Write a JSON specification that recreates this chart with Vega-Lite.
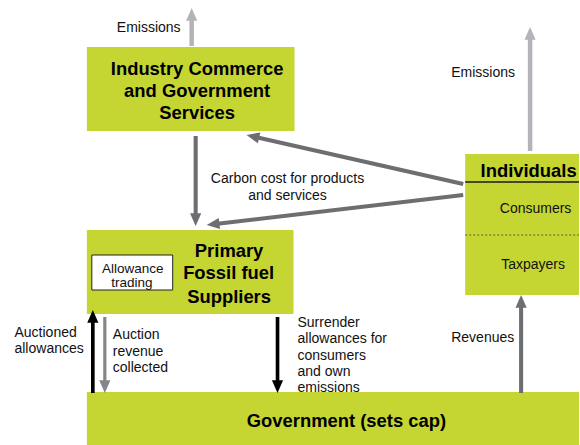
{
  "$schema": "https://vega.github.io/schema/vega-lite/v6.json",
  "width": 580,
  "height": 445,
  "autosize": {"type": "fit", "contains": "padding"},
  "padding": 0,
  "background": "white",
  "config": {"view": {"stroke": null}},
  "datasets": {
    "boxes": [
      {"name": "Industry", "x": 87, "x2": 295, "y": 47, "y2": 131},
      {"name": "Primary", "x": 87, "x2": 294, "y": 230, "y2": 314},
      {"name": "Individuals", "x": 466, "x2": 580, "y": 154, "y2": 295},
      {"name": "Government", "x": 87, "x2": 580, "y": 392, "y2": 445}
    ],
    "white": [
      {"name": "Allowance trading", "x": 92, "x2": 173, "y": 255, "y2": 290}
    ],
    "solid": [{"x": 466, "x2": 580, "y": 182}],
    "dashed": [{"x": 466, "x2": 580, "y": 235}],
    "arrows": [
      {"label": "Emissions (industry)", "kind": "emission", "x1": 192, "y1": 46, "x2": 192, "y2": 8},
      {"label": "Emissions (individuals)", "kind": "emission", "x1": 531, "y1": 151, "x2": 531, "y2": 27},
      {"label": "Carbon cost industry to suppliers", "kind": "flow", "x1": 196, "y1": 136, "x2": 196, "y2": 226},
      {"label": "Individuals to industry", "kind": "flow", "x1": 464, "y1": 184, "x2": 247, "y2": 135},
      {"label": "Individuals to suppliers", "kind": "flow", "x1": 464, "y1": 195, "x2": 207, "y2": 225},
      {"label": "Auctioned allowances", "kind": "black", "x1": 93, "y1": 393, "x2": 93, "y2": 310},
      {"label": "Auction revenue collected", "kind": "light", "x1": 105, "y1": 317, "x2": 105, "y2": 393},
      {"label": "Surrender allowances", "kind": "black", "x1": 278, "y1": 317, "x2": 278, "y2": 393},
      {"label": "Revenues", "kind": "flow", "x1": 522, "y1": 393, "x2": 522, "y2": 295}
    ],
    "txtL": [
      {"t": "Emissions", "x": 117, "y": 28},
      {"t": "Emissions", "x": 452, "y": 73},
      {"t": "Auctioned", "x": 14.5, "y": 333},
      {"t": "allowances", "x": 14.5, "y": 349},
      {"t": "Auction", "x": 113, "y": 335},
      {"t": "revenue", "x": 113, "y": 352},
      {"t": "collected", "x": 113, "y": 368},
      {"t": "Surrender", "x": 298, "y": 323},
      {"t": "allowances for", "x": 298, "y": 339},
      {"t": "consumers", "x": 298, "y": 355.5},
      {"t": "and own", "x": 298, "y": 372},
      {"t": "emissions", "x": 298, "y": 388},
      {"t": "Revenues", "x": 452, "y": 338}
    ],
    "txtC": [
      {"t": "Carbon cost for products", "x": 288, "y": 178.5},
      {"t": "and services", "x": 288, "y": 196},
      {"t": "Consumers", "x": 536.5, "y": 209},
      {"t": "Taxpayers", "x": 534, "y": 264.5}
    ],
    "txtS": [
      {"t": "Allowance", "x": 133, "y": 268.5},
      {"t": "trading", "x": 132, "y": 283}
    ],
    "txtB": [
      {"t": "Industry Commerce", "x": 197.5, "y": 68.5},
      {"t": "and Government", "x": 197.5, "y": 90.5},
      {"t": "Services", "x": 197.5, "y": 113},
      {"t": "Primary", "x": 229.5, "y": 251},
      {"t": "Fossil fuel", "x": 229, "y": 273},
      {"t": "Suppliers", "x": 229.5, "y": 297},
      {"t": "Individuals", "x": 529.5, "y": 171},
      {"t": "Government (sets cap)", "x": 347, "y": 421}
    ]
  },
  "encoding": {
    "x": {"field": "x", "type": "quantitative", "scale": {"domain": [0, 580], "nice": false, "zero": false}, "axis": null},
    "y": {"field": "y", "type": "quantitative", "scale": {"domain": [0, 445], "nice": false, "zero": false, "reverse": true}, "axis": null}
  },
  "layer": [
    {
      "data": {"name": "boxes"},
      "mark": {"type": "rect", "color": "#c5d531"},
      "encoding": {
        "x2": {"field": "x2"},
        "y2": {"field": "y2"}
      }
    },
    {
      "data": {"name": "white"},
      "mark": {"type": "rect", "fill": "white", "stroke": "#222222", "strokeWidth": 1},
      "encoding": {
        "x2": {"field": "x2"},
        "y2": {"field": "y2"}
      }
    },
    {
      "data": {"name": "solid"},
      "mark": {"type": "rule", "color": "#1a1a1a", "strokeWidth": 1.5},
      "encoding": {"x2": {"field": "x2"}}
    },
    {
      "data": {"name": "dashed"},
      "mark": {"type": "rule", "color": "#333333", "strokeWidth": 0.7, "strokeDash": [2, 2]},
      "encoding": {"x2": {"field": "x2"}}
    },
    {
      "data": {"name": "arrows"},
      "transform": [
        {"calculate": "sqrt(pow(datum.x2-datum.x1,2)+pow(datum.y2-datum.y1,2))", "as": "len"},
        {"calculate": "datum.x1", "as": "x"},
        {"calculate": "datum.y1", "as": "y"},
        {"calculate": "datum.x2-(datum.x2-datum.x1)/datum.len*9", "as": "sx"},
        {"calculate": "datum.y2-(datum.y2-datum.y1)/datum.len*9", "as": "sy"}
      ],
      "mark": {"type": "rule", "strokeCap": "butt"},
      "encoding": {
        "x2": {"field": "sx"},
        "y2": {"field": "sy"},
        "color": {"field": "kind", "type": "nominal", "scale": {"domain": ["emission", "flow", "black", "light"], "range": ["#b2b4b7", "#6d6e71", "#000000", "#858689"]}, "legend": null},
        "strokeWidth": {"field": "kind", "type": "nominal", "scale": {"domain": ["emission", "flow", "black", "light"], "range": [4.5, 3.2, 3.2, 3.2]}, "legend": null}
      }
    },
    {
      "data": {"name": "arrows"},
      "transform": [
        {"calculate": "datum.x2", "as": "x"},
        {"calculate": "datum.y2", "as": "y"},
        {"calculate": "atan2(datum.x2-datum.x1, -(datum.y2-datum.y1))*180/PI", "as": "ang"}
      ],
      "mark": {"type": "point", "shape": "M0,0L-0.5,1.15L0.5,1.15Z", "filled": true, "opacity": 1, "size": 500, "strokeWidth": 0},
      "encoding": {
        "color": {"field": "kind", "type": "nominal", "scale": {"domain": ["emission", "flow", "black", "light"], "range": ["#b2b4b7", "#6d6e71", "#000000", "#858689"]}, "legend": null},
        "angle": {"field": "ang", "type": "quantitative", "scale": null}
      }
    },
    {
      "data": {"name": "txtL"},
      "mark": {"type": "text", "align": "left", "baseline": "middle", "font": "Liberation Sans", "fontSize": 14, "color": "#111111"},
      "encoding": {"text": {"field": "t"}}
    },
    {
      "data": {"name": "txtC"},
      "mark": {"type": "text", "align": "center", "baseline": "middle", "font": "Liberation Sans", "fontSize": 14, "color": "#111111"},
      "encoding": {"text": {"field": "t"}}
    },
    {
      "data": {"name": "txtS"},
      "mark": {"type": "text", "align": "center", "baseline": "middle", "font": "Liberation Sans", "fontSize": 13.5, "color": "#111111"},
      "encoding": {"text": {"field": "t"}}
    },
    {
      "data": {"name": "txtB"},
      "mark": {"type": "text", "align": "center", "baseline": "middle", "font": "Liberation Sans", "fontSize": 18.4, "fontWeight": "bold", "color": "#000000"},
      "encoding": {"text": {"field": "t"}}
    }
  ]
}
